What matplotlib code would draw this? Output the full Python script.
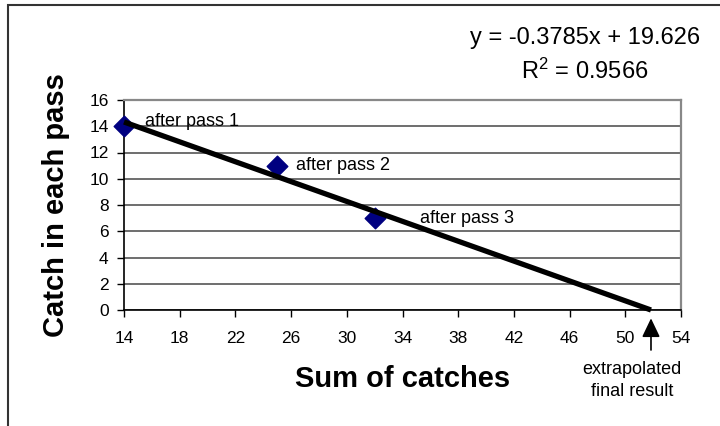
import numpy as np
import matplotlib
matplotlib.use("Agg")
import matplotlib.pyplot as plt
from matplotlib.patches import Rectangle

# data
sum_catches = [14, 25, 32]
catch_per_pass = [14, 11, 7]
point_labels = ["after pass 1", "after pass 2", "after pass 3"]
label_offsets_px = [(21, 5), (19, 0), (45, 0)]
x_ticks = [14, 18, 22, 26, 30, 34, 38, 42, 46, 50, 54]
y_ticks = [0, 2, 4, 6, 8, 10, 12, 14, 16]

plt.rcParams.update({"font.family": ["Liberation Sans", "DejaVu Sans"],
                     "mathtext.default": "regular"})

fig = plt.figure(figsize=(7.2, 4.26), dpi=100)
W, H = 720, 426
ax = fig.add_axes([124 / W, 1 - 310 / H, 557 / W, 210 / H])

# outer chart frame (left and top edges visible)
fig.patches.append(Rectangle((8 / W, -0.1), 2.0, 1 - 5 / H + 0.1,
                             transform=fig.transFigure, fill=False,
                             edgecolor="#333333", linewidth=1.5))

slope, icpt = np.polyfit(sum_catches, catch_per_pass, 1)
r2 = np.corrcoef(sum_catches, catch_per_pass)[0, 1] ** 2
x_end = -icpt / slope

ax.scatter(sum_catches, catch_per_pass, marker="D", s=110, color="#000080",
           zorder=3, clip_on=False)
ax.plot([sum_catches[0], x_end], [slope * sum_catches[0] + icpt, 0],
        color="black", linewidth=3.8, zorder=4, solid_capstyle="butt",
        clip_on=False)

for xv, yv, lbl, (dx, dy) in zip(sum_catches, catch_per_pass, point_labels,
                                  label_offsets_px):
    ax.annotate(lbl, (xv, yv), xytext=(dx * 0.72, dy * 0.72),
                textcoords="offset points", ha="left", va="center",
                fontsize=13, zorder=5)

ax.set_xlim(14, 54)
ax.set_ylim(0, 16)
ax.set_xticks(x_ticks)
ax.set_yticks(y_ticks)
ax.tick_params(direction="out", length=5, width=1, labelsize=12.5, color="black")
ax.tick_params(axis="x", pad=10)
ax.tick_params(axis="y", pad=6)
ax.yaxis.grid(True, color="#555555", linewidth=1.2)
ax.set_axisbelow(True)
for s in ("top", "right"):
    ax.spines[s].set_color("#888888")
    ax.spines[s].set_linewidth(1.6)
for s in ("left", "bottom"):
    ax.spines[s].set_color("black")
    ax.spines[s].set_linewidth(1.2)

ax.set_xlabel("Sum of catches", fontsize=21, fontweight="bold", labelpad=14)
ax.set_ylabel("Catch in each pass", fontsize=21, fontweight="bold", labelpad=14)

fig.text(585 / W, 1 - 38 / H, f"y = {slope:.4f}x + {icpt:.3f}", ha="center",
         va="center", fontsize=17)
fig.text(585 / W, 1 - 71 / H, f"R$^{{2}}$ = {r2:.4f}", ha="center",
         va="center", fontsize=17)

# arrow pointing at the x-intercept, with its caption below
ax.annotate("", xy=(x_end, 0), xytext=(0, -40 * 0.72),
            xycoords="data", textcoords="offset points", annotation_clip=False,
            arrowprops=dict(arrowstyle="-|>,head_width=0.55,head_length=1.15",
                            color="black", linewidth=1.2, shrinkA=0,
                            shrinkB=6))
ax.annotate("extrapolated\nfinal result", xy=(x_end, 0),
            xytext=(-19 * 0.72, -51 * 0.72), textcoords="offset points",
            ha="center", va="top", fontsize=13, linespacing=1.35,
            annotation_clip=False)

fig.savefig("out.png", dpi=100)
